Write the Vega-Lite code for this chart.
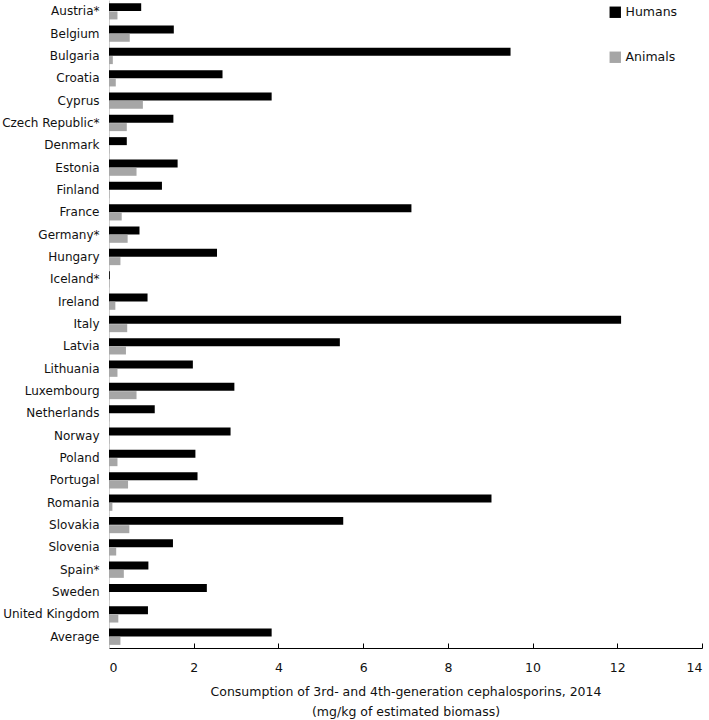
{
  "$schema": "https://vega.github.io/schema/vega-lite/v6.json",
  "autosize": "none",
  "width": 593,
  "height": 648,
  "padding": {"left": 109, "top": 0, "right": 7, "bottom": 72},
  "background": "white",
  "config": {"view": {"stroke": null}, "font": "DejaVu Sans"},
  "data": {"values": [
    {"country": "Austria*", "group": "Humans", "value": 0.76},
    {"country": "Austria*", "group": "Animals", "value": 0.2},
    {"country": "Belgium", "group": "Humans", "value": 1.53},
    {"country": "Belgium", "group": "Animals", "value": 0.49},
    {"country": "Bulgaria", "group": "Humans", "value": 9.48},
    {"country": "Bulgaria", "group": "Animals", "value": 0.09},
    {"country": "Croatia", "group": "Humans", "value": 2.68},
    {"country": "Croatia", "group": "Animals", "value": 0.16},
    {"country": "Cyprus", "group": "Humans", "value": 3.84},
    {"country": "Cyprus", "group": "Animals", "value": 0.8},
    {"country": "Czech Republic*", "group": "Humans", "value": 1.52},
    {"country": "Czech Republic*", "group": "Animals", "value": 0.42},
    {"country": "Denmark", "group": "Humans", "value": 0.42},
    {"country": "Denmark", "group": "Animals", "value": 0.01},
    {"country": "Estonia", "group": "Humans", "value": 1.62},
    {"country": "Estonia", "group": "Animals", "value": 0.65},
    {"country": "Finland", "group": "Humans", "value": 1.25},
    {"country": "Finland", "group": "Animals", "value": 0.01},
    {"country": "France", "group": "Humans", "value": 7.14},
    {"country": "France", "group": "Animals", "value": 0.3},
    {"country": "Germany*", "group": "Humans", "value": 0.72},
    {"country": "Germany*", "group": "Animals", "value": 0.44},
    {"country": "Hungary", "group": "Humans", "value": 2.55},
    {"country": "Hungary", "group": "Animals", "value": 0.27},
    {"country": "Iceland*", "group": "Humans", "value": 0.02},
    {"country": "Iceland*", "group": "Animals", "value": 0.01},
    {"country": "Ireland", "group": "Humans", "value": 0.91},
    {"country": "Ireland", "group": "Animals", "value": 0.15},
    {"country": "Italy", "group": "Humans", "value": 12.09},
    {"country": "Italy", "group": "Animals", "value": 0.43},
    {"country": "Latvia", "group": "Humans", "value": 5.45},
    {"country": "Latvia", "group": "Animals", "value": 0.4},
    {"country": "Lithuania", "group": "Humans", "value": 1.98},
    {"country": "Lithuania", "group": "Animals", "value": 0.2},
    {"country": "Luxembourg", "group": "Humans", "value": 2.96},
    {"country": "Luxembourg", "group": "Animals", "value": 0.65},
    {"country": "Netherlands", "group": "Humans", "value": 1.08},
    {"country": "Netherlands", "group": "Animals", "value": 0.01},
    {"country": "Norway", "group": "Humans", "value": 2.87},
    {"country": "Norway", "group": "Animals", "value": 0.01},
    {"country": "Poland", "group": "Humans", "value": 2.04},
    {"country": "Poland", "group": "Animals", "value": 0.2},
    {"country": "Portugal", "group": "Humans", "value": 2.09},
    {"country": "Portugal", "group": "Animals", "value": 0.45},
    {"country": "Romania", "group": "Humans", "value": 9.03},
    {"country": "Romania", "group": "Animals", "value": 0.08},
    {"country": "Slovakia", "group": "Humans", "value": 5.53},
    {"country": "Slovakia", "group": "Animals", "value": 0.48},
    {"country": "Slovenia", "group": "Humans", "value": 1.51},
    {"country": "Slovenia", "group": "Animals", "value": 0.17},
    {"country": "Spain*", "group": "Humans", "value": 0.93},
    {"country": "Spain*", "group": "Animals", "value": 0.35},
    {"country": "Sweden", "group": "Humans", "value": 2.31},
    {"country": "Sweden", "group": "Animals", "value": 0.01},
    {"country": "United Kingdom", "group": "Humans", "value": 0.92},
    {"country": "United Kingdom", "group": "Animals", "value": 0.22},
    {"country": "Average", "group": "Humans", "value": 3.84},
    {"country": "Average", "group": "Animals", "value": 0.27}
  ]},
  "mark": {"type": "bar"},
  "encoding": {
    "y": {
      "field": "country", "type": "nominal", "sort": null,
      "scale": {"paddingInner": 0.27, "paddingOuter": 0.14},
      "axis": {
        "title": null, "ticks": false, "labelFontSize": 12, "labelColor": "#111",
        "labelPadding": 10, "domainColor": "#cccccc", "domainWidth": 1, "labelLimit": 200
      }
    },
    "yOffset": {"field": "group", "type": "nominal", "sort": ["Humans", "Animals"], "scale": {"paddingInner": 0.04}},
    "x": {
      "field": "value", "type": "quantitative",
      "scale": {"domain": [0, 14], "nice": false},
      "axis": {
        "values": [0, 2, 4, 6, 8, 10, 12, 14],
        "grid": false, "domainColor": "#000", "domainWidth": 1.2,
        "tickColor": "#000", "tickSize": -5, "labelPadding": 18,
        "labelFontSize": 12.5, "labelColor": "#111",
        "title": ["Consumption of 3rd- and 4th-generation cephalosporins, 2014", "(mg/kg of estimated biomass)"],
        "titleFontSize": 12.5, "titleFontWeight": "normal", "titleColor": "#111", "titlePadding": 12, "titleLineHeight": 20
      }
    },
    "color": {
      "field": "group", "type": "nominal",
      "scale": {"domain": ["Humans", "Animals"], "range": ["#000000", "#a6a6a6"]},
      "legend": {
        "title": null, "orient": "none", "legendX": 500, "legendY": 6,
        "symbolType": "square", "symbolSize": 130, "labelFontSize": 12.5, "labelColor": "#111",
        "rowPadding": 32, "symbolStrokeWidth": 0
      }
    }
  }
}
